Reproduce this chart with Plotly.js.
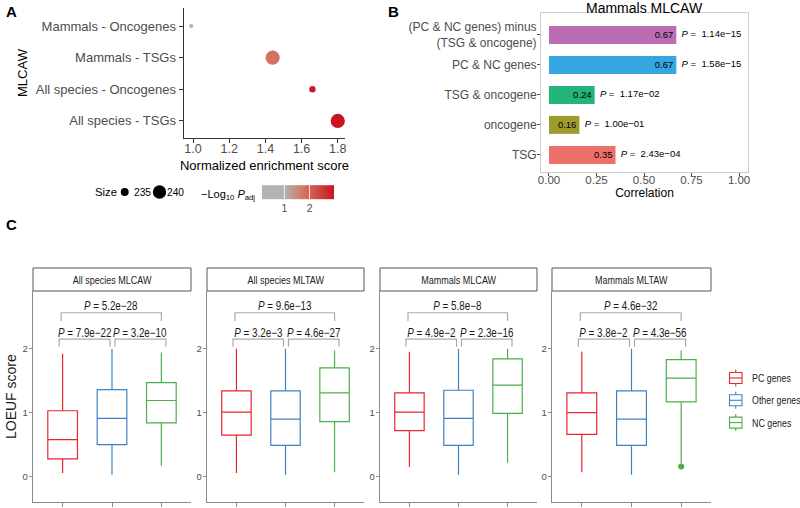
<!DOCTYPE html>
<html><head><meta charset="utf-8">
<script src="https://cdn.plot.ly/plotly-3.0.1.min.js"></script>
<style>html,body{margin:0;padding:0;background:#fff}#chart{width:800px;height:508px}</style>
</head><body><div id="chart"></div>
<script>
// ---------- DATA ----------
// Panel A: enrichment dot plot
const nesCategories = ['Mammals - Oncogenes', 'Mammals - TSGs', 'All species - Oncogenes', 'All species - TSGs'];
const nesValues = [0.99, 1.44, 1.66, 1.80];
const nesSetSizes = [233, 241, 234, 241];
const nesNegLog10Padj = [0.12, 1.80, 2.90, 2.96];
const sizeBreaks = [235, 240];
const colorTicks = [1, 2];

// Panel B: correlation bars
const corrCategories = ['TSG', 'oncogene', 'TSG & oncogene', 'PC & NC genes', '(PC & NC genes) minus<br>(TSG & oncogene)'];
const corrValues = [0.35, 0.16, 0.24, 0.67, 0.67];
const corrPValues = ['2.43e\u221204', '1.00e\u221201', '1.17e\u221202', '1.58e\u221215', '1.14e\u221215'];
const corrTicks = [0, 0.25, 0.5, 0.75, 1];

// Panel C: LOEUF box plots (facet x class)
const facetTitles = ['All species MLCAW', 'All species MLTAW', 'Mammals MLCAW', 'Mammals MLTAW'];
const geneClasses = ['PC genes', 'Other genes', 'NC genes'];
const loeufLower  = [[0.06, 0.03, 0.17], [0.06, 0.03, 0.07], [0.15, 0.03, 0.22], [0.07, 0.03, 0.21]];
const loeufQ1     = [[0.28, 0.50, 0.84], [0.65, 0.49, 0.86], [0.72, 0.49, 0.99], [0.66, 0.49, 1.17]];
const loeufMedian = [[0.58, 0.91, 1.19], [1.01, 0.90, 1.31], [1.01, 0.91, 1.43], [1.00, 0.90, 1.54]];
const loeufQ3     = [[1.03, 1.36, 1.47], [1.34, 1.34, 1.70], [1.31, 1.35, 1.84], [1.31, 1.34, 1.83]];
const loeufUpper  = [[1.92, 2.00, 1.94], [2.00, 2.00, 1.97], [1.95, 2.00, 2.00], [1.95, 2.00, 1.97]];
const loeufOutlierFacet = [3];
const loeufOutlierClass = [2];
const loeufOutlierValue = [0.16];
const pTop   = ['5.2e\u221228', '9.6e\u221213', '5.8e\u22128', '4.6e\u221232'];
const pLeft  = ['7.9e\u221222', '3.2e\u22123', '4.9e\u22122', '3.8e\u22122'];
const pRight = ['3.2e\u221210', '4.6e\u221227', '2.3e\u221216', '4.3e\u221256'];
const loeufTicks = [0, 1, 2];

// ---------- STYLE / LAYOUT ----------
const W = 800, H = 508;
const px = v => v / W, py = v => 1 - v / H;
const SANS = 'Liberation Sans, Arial, sans-serif';
const GREY = '#4D4D4D';
const NARROW_SCALE = 0.82;
const barColors = ['#EE7169', '#9E9B2F', '#22B478', '#35A6E0', '#BA6DB2'];
const classColors = ['#E8262B', '#3F82C4', '#4DAF4A'];
const facetX = [[33, 191], [207, 364], [380, 537], [552, 711]];

// size scale (area-proportional) for panel A
const sMin = Math.min(...nesSetSizes), sMax = Math.max(...nesSetSizes);
const dMin = 4.2, dMax = 14.2;
const sizeScale = v => Math.sqrt(dMin * dMin + (v - sMin) / (sMax - sMin) * (dMax * dMax - dMin * dMin));

const cMin = Math.min(...nesNegLog10Padj), cMax = Math.max(...nesNegLog10Padj);
const greyStop = (1 - cMin) / (cMax - cMin);

const traces = [];
const shapes = [];
const annotations = [];
const narrowIdx = new Set();
const addNarrow = a => { narrowIdx.add(annotations.length); annotations.push(a); };

// Panel A trace
traces.push({
  type: 'scatter', mode: 'markers', x: nesValues, y: nesCategories,
  xaxis: 'x', yaxis: 'y', showlegend: false, hoverinfo: 'skip', cliponaxis: false,
  marker: {
    size: nesSetSizes.map(sizeScale), color: nesNegLog10Padj, cmin: cMin, cmax: cMax,
    colorscale: [[0, '#B3B3B3'], [greyStop, '#B3B3B3'], [0.6, '#D5705F'], [1, '#C81420']],
    line: {width: 0}, opacity: 1, showscale: true,
    colorbar: {
      orientation: 'h', x: px(298), xanchor: 'center', y: py(207), yanchor: 'middle',
      len: 72, lenmode: 'pixels', thickness: 14, thicknessmode: 'pixels',
      outlinewidth: 0, xpad: 0, ypad: 0,
      tickvals: colorTicks, ticktext: colorTicks.map(String),
      ticks: 'inside', ticklen: 14, tickcolor: 'rgba(255,255,255,0.8)', tickwidth: 1,
      tickfont: {family: SANS, size: 10.5, color: GREY}
    }
  }
});

// Panel A size legend
annotations.push({xref: 'paper', yref: 'paper', x: px(93), y: py(192), xanchor: 'left', yanchor: 'middle',
  text: 'Size', showarrow: false, font: {family: SANS, size: 11.3, color: '#000'}});
const sizeLegendX = [124.7, 159.5];
const sizeLegendLabelX = [131.5, 165];
sizeBreaks.forEach((b, i) => {
  const r = sizeScale(b) / 2;
  shapes.push({type: 'circle', xref: 'paper', yref: 'paper', xsizemode: 'pixel', ysizemode: 'pixel',
    xanchor: px(sizeLegendX[i]), yanchor: py(192), x0: -r, x1: r, y0: -r, y1: r,
    fillcolor: '#000', line: {width: 0}});
  annotations.push({xref: 'paper', yref: 'paper', x: px(sizeLegendLabelX[i]), y: py(192), xanchor: 'left', yanchor: 'middle',
    text: String(b), showarrow: false, font: {family: SANS, size: 10.2, color: '#000'}});
});
annotations.push({xref: 'paper', yref: 'paper', x: px(257), y: py(195), xanchor: 'right', yanchor: 'middle',
  text: '\u2212Log<sub>10</sub> <i>P</i><sub>adj</sub>', showarrow: false, font: {family: SANS, size: 11, color: '#000'}});

// Panel B traces
traces.push({
  type: 'bar', orientation: 'h', x: corrValues, y: corrCategories, xaxis: 'x2', yaxis: 'y2',
  width: 0.6, marker: {color: barColors, line: {width: 0}}, showlegend: false, hoverinfo: 'skip',
  text: corrValues.map(v => v.toFixed(2)), textposition: 'inside', insidetextanchor: 'end',
  constraintext: 'none', textfont: {family: SANS, size: 9.5, color: '#000'}
});
traces.push({
  type: 'scatter', mode: 'text', x: corrValues, y: corrCategories, xaxis: 'x2', yaxis: 'y2',
  text: corrPValues.map(p => '\u00A0\u00A0<i>P</i> =\u00A0\u00A0' + p), textposition: 'middle right',
  textfont: {family: SANS, size: 9.5, color: '#000'}, showlegend: false, hoverinfo: 'skip', cliponaxis: false
});
annotations.push({xref: 'paper', yref: 'paper', x: px(644.5), y: py(8), xanchor: 'center', yanchor: 'middle',
  text: 'Mammals MLCAW', showarrow: false, font: {family: SANS, size: 14, color: '#000'}});

// Panel C traces
for (let f = 0; f < 4; f++) {
  const ax = 3 + f;
  for (let c = 0; c < 3; c++) {
    traces.push({
      type: 'box', orientation: 'v', x: [c + 1], q1: [loeufQ1[f][c]], median: [loeufMedian[f][c]],
      q3: [loeufQ3[f][c]], lowerfence: [loeufLower[f][c]], upperfence: [loeufUpper[f][c]],
      width: 0.6, whiskerwidth: 0, boxpoints: false,
      line: {color: classColors[c], width: 1.2}, fillcolor: 'rgba(255,255,255,0)',
      name: geneClasses[c], showlegend: false,
      xaxis: 'x' + ax, yaxis: 'y' + ax, hoverinfo: 'skip'
    });
  }
}
loeufOutlierFacet.forEach((f, i) => {
  traces.push({
    type: 'scatter', mode: 'markers', x: [loeufOutlierClass[i] + 1], y: [loeufOutlierValue[i]],
    xaxis: 'x' + (3 + f), yaxis: 'y' + (3 + f), marker: {color: classColors[loeufOutlierClass[i]], size: 6},
    showlegend: false, hoverinfo: 'skip'
  });
});

// Panel C legend (drawn as keys + labels)
const legendY = [378, 400.3, 422.6];
geneClasses.forEach((name, c) => {
  const cy = legendY[c], col = classColors[c];
  shapes.push({type: 'rect', xref: 'paper', yref: 'paper', x0: px(729.5), x1: px(742), y0: py(cy + 5.5), y1: py(cy - 5.5),
    fillcolor: '#fff', line: {color: col, width: 1.1}});
  shapes.push({type: 'line', xref: 'paper', yref: 'paper', x0: px(729.5), x1: px(742), y0: py(cy), y1: py(cy),
    line: {color: col, width: 1.1}});
  shapes.push({type: 'line', xref: 'paper', yref: 'paper', x0: px(735.75), x1: px(735.75), y0: py(cy - 5.5), y1: py(cy - 8.5),
    line: {color: col, width: 1.1}});
  shapes.push({type: 'line', xref: 'paper', yref: 'paper', x0: px(735.75), x1: px(735.75), y0: py(cy + 5.5), y1: py(cy + 8.5),
    line: {color: col, width: 1.1}});
  addNarrow({xref: 'paper', yref: 'paper', x: px(749.5), y: py(cy), xanchor: 'left', yanchor: 'middle',
    text: name, showarrow: false, font: {family: SANS, size: 10.8, color: '#1a1a1a'}});
});

const layout = {
  width: W, height: H, margin: {l: 0, r: 0, t: 0, b: 0, autoexpand: false},
  paper_bgcolor: '#fff', plot_bgcolor: 'rgba(0,0,0,0)',
  font: {family: SANS, color: '#000'},
  boxmode: 'overlay',
  showlegend: false,
  xaxis: {
    domain: [px(184), px(345)], anchor: 'y', range: [0.95, 1.84],
    tickvals: [1, 1.2, 1.4, 1.6, 1.8], ticktext: ['1.0', '1.2', '1.4', '1.6', '1.8'],
    showline: true, linecolor: '#333', linewidth: 1.4, ticks: 'outside', ticklen: 4, tickcolor: '#333',
    ticklabelstandoff: -5,
    tickfont: {size: 12.5, color: GREY}, showgrid: false, zeroline: false,
    title: {text: 'Normalized enrichment score', font: {size: 13, color: '#000'}, standoff: 5}
  },
  yaxis: {
    domain: [py(138), py(8)], anchor: 'x', type: 'category', categoryorder: 'array',
    categoryarray: nesCategories.slice().reverse(), range: [-0.54, 3.57],
    showline: true, linecolor: '#333', linewidth: 1.4, ticks: 'outside', ticklen: 4, tickcolor: '#333',
    tickfont: {size: 13, color: GREY}, showgrid: false, zeroline: false
  },
  xaxis2: {
    domain: [px(541), px(748)], anchor: 'y2', range: [-0.042, 1.047],
    tickvals: corrTicks, ticktext: corrTicks.map(v => v.toFixed(2)),
    showline: true, mirror: true, linecolor: '#CCCCCC', linewidth: 1, ticks: 'outside', ticklen: 3, tickcolor: '#555',
    ticklabelstandoff: -6,
    tickfont: {size: 11.5, color: GREY}, showgrid: false, zeroline: false,
    title: {text: 'Correlation', font: {size: 12, color: '#000'}, standoff: 1}
  },
  yaxis2: {
    domain: [py(172), py(13)], anchor: 'x2', type: 'category', categoryorder: 'array',
    categoryarray: corrCategories, range: [-0.57, 4.73],
    showline: true, mirror: true, linecolor: '#CCCCCC', linewidth: 1, ticks: 'outside', ticklen: 3, tickcolor: '#555',
    ticklabelstandoff: -2,
    tickfont: {size: 12, color: GREY}, showgrid: false, zeroline: false
  },
  shapes: shapes, annotations: annotations
};

for (let f = 0; f < 4; f++) {
  const ax = 3 + f;
  const [L, R] = facetX[f];
  layout['xaxis' + ax] = {
    domain: [px(L), px(R)], anchor: 'y' + ax, range: [0.4, 3.6], tickvals: [1, 2, 3], showticklabels: false,
    showline: true, linecolor: '#8C8C8C', linewidth: 1.2, ticks: 'outside', ticklen: 4, tickcolor: '#8C8C8C',
    showgrid: false, zeroline: false
  };
  layout['yaxis' + ax] = {
    domain: [py(501.7), py(291)], anchor: 'x' + ax, range: [-0.39, 2.9], tickvals: loeufTicks,
    showline: true, linecolor: '#8C8C8C', linewidth: 1.2, ticks: 'outside', ticklen: 3, tickcolor: '#8C8C8C',
    ticklabelstandoff: -1,
    tickfont: {family: SANS, size: 9.5, color: GREY}, showgrid: false, zeroline: false
  };
  // strip
  shapes.push({type: 'rect', xref: 'paper', yref: 'paper', x0: px(L), x1: px(R), y0: py(291), y1: py(268),
    fillcolor: '#fff', line: {color: '#555', width: 1}});
  addNarrow({xref: 'paper', yref: 'paper', x: px((L + R) / 2), y: py(279.5), xanchor: 'center', yanchor: 'middle',
    text: facetTitles[f], showarrow: false, font: {family: SANS, size: 11, color: '#1a1a1a'}});
  // brackets
  const brackets = [
    {x0: 0.97, x1: 3.0, top: 2.56, foot: 2.43, label: pTop[f]},
    {x0: 0.93, x1: 1.96, top: 2.15, foot: 2.03, label: pLeft[f]},
    {x0: 2.06, x1: 3.09, top: 2.15, foot: 2.03, label: pRight[f]}
  ];
  brackets.forEach(b => {
    shapes.push({type: 'path', xref: 'x' + ax, yref: 'y' + ax,
      path: `M ${b.x0},${b.foot} L ${b.x0},${b.top} L ${b.x1},${b.top} L ${b.x1},${b.foot}`,
      line: {color: '#AAAAAA', width: 1.2}});
    addNarrow({xref: 'x' + ax, yref: 'y' + ax, x: (b.x0 + b.x1) / 2, y: b.top, xanchor: 'center', yanchor: 'bottom',
      text: '<i>P</i> = ' + b.label, showarrow: false, yshift: -2.5,
      font: {family: SANS, size: 12, color: '#1a1a1a'}});
  });
}

annotations.push({xref: 'paper', yref: 'paper', x: px(11), y: py(397), textangle: -90, xanchor: 'center', yanchor: 'middle',
  text: 'LOEUF score', showarrow: false, font: {family: SANS, size: 14, color: '#1a1a1a'}});
annotations.push({xref: 'paper', yref: 'paper', x: px(23), y: py(73), textangle: -90, xanchor: 'center', yanchor: 'middle',
  text: 'MLCAW', showarrow: false, font: {family: SANS, size: 13, color: '#000'}});
[['A', 11, 12], ['B', 393, 12], ['C', 11, 224]].forEach(([t, x, y]) => {
  annotations.push({xref: 'paper', yref: 'paper', x: px(x), y: py(y), xanchor: 'center', yanchor: 'middle',
    text: '<b>' + t + '</b>', showarrow: false, font: {family: SANS, size: 15, color: '#000'}});
});

Plotly.newPlot('chart', traces, layout, {staticPlot: true, displayModeBar: false}).then(gd => {
  // emulate the condensed face of the original panel C labels
  gd.querySelectorAll('g.annotation').forEach(g => {
    const idx = +g.getAttribute('data-index');
    if (!narrowIdx.has(idx)) return;
    const t = g.querySelector('text.annotation-text');
    if (!t) return;
    const bb = t.getBBox();
    const ox = annotations[idx].xanchor === 'left' ? bb.x : bb.x + bb.width / 2;
    const prev = t.getAttribute('transform') || '';
    t.setAttribute('transform', `${prev} translate(${ox},0) scale(${NARROW_SCALE},1) translate(${-ox},0)`.trim());
  });
});
</script></body></html>
